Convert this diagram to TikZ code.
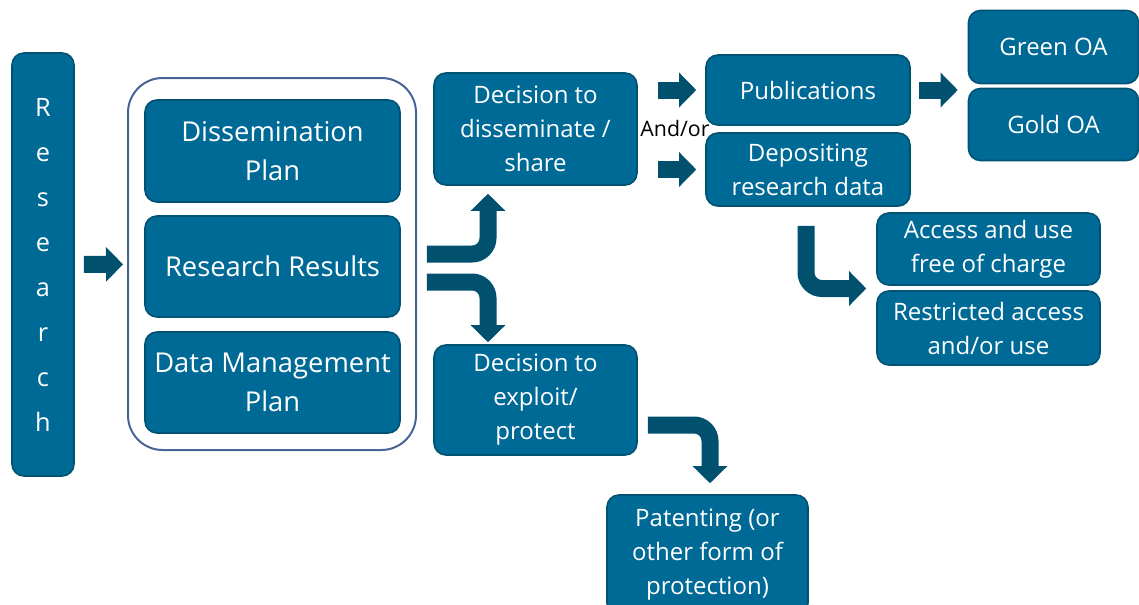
\documentclass[tikz,border=0pt]{standalone}
\usepackage{fontspec}
\setmainfont{Open Sans}
\usetikzlibrary{arrows.meta,calc}
\definecolor{boxblue}{RGB}{0,106,150}
\definecolor{boxedge}{RGB}{0,82,115}
\definecolor{arrowblue}{RGB}{0,80,110}
\definecolor{framec}{RGB}{72,100,150}

\begin{document}
\begin{tikzpicture}[x=0.75pt,y=-0.75pt,
	box/.style={rectangle, rounded corners=9pt, fill=boxblue, draw=boxedge, line width=1.2pt, text=white, align=center, inner sep=0pt},
	bigtext/.style={font=\fontsize{20.5}{29}\selectfont},
	smalltext/.style={font=\fontsize{18}{25.5}\selectfont},
	flow/.style={draw=arrowblue, line width=12.75pt, rounded corners=12pt, -{Triangle[length=12.75pt,width=26pt,line width=0pt]}}
	]
	\useasboundingbox (0,0) rectangle (1139,604);

	% Forschung und Rahmen
	\node[box, minimum width=46.5pt, minimum height=317.25pt, font=\fontsize{19}{33.75}\selectfont] (research) at (43,264.5) {R\\e\\s\\e\\a\\r\\c\\h};
	\node[draw=framec, line width=1.5pt, rounded corners=26pt, minimum width=216pt, minimum height=279pt] (frame) at (272,264) {};
	\node[box, bigtext, minimum width=191.25pt, minimum height=76.5pt] (dissem) at (272.5,151) {Dissemination\\Plan};
	\node[box, bigtext, minimum width=191.25pt, minimum height=75.75pt] (results) at (272.5,266.5) {Research Results};
	\node[box, bigtext, minimum width=191.25pt, minimum height=75.75pt] (dmp) at (272.5,382.5) {Data Management\\Plan};

	% Entscheidungen
	\node[box, smalltext, minimum width=152.25pt, minimum height=84pt] (share) at (535.5,129) {Decision to\\disseminate /\\share};
	\node[box, smalltext, minimum width=152.25pt, minimum height=82.5pt] (exploit) at (535.5,400) {Decision to\\exploit/\\protect};
	\node[font=\fontsize{16}{19}\selectfont] (andor) at (675,128) {And/or};

	% Veroeffentlichung und Daten
	\node[box, smalltext, minimum width=153pt, minimum height=52.5pt] (pubs) at (808,90) {Publications};
	\node[box, smalltext, minimum width=153pt, minimum height=54.75pt] (deposit) at (808,169.5) {Depositing\\research data};
	\node[box, smalltext, minimum width=127.5pt, minimum height=54.75pt] (green) at (1053.5,47) {Green OA};
	\node[box, smalltext, minimum width=127.5pt, minimum height=54pt] (gold) at (1053.5,124.5) {Gold OA};
	\node[box, smalltext, minimum width=167.25pt, minimum height=54pt] (access) at (988.5,249) {Access and use\\free of charge};
	\node[box, smalltext, minimum width=167.25pt, minimum height=55.5pt] (restricted) at (988.5,328) {Restricted access\\and/or use};
	\node[box, smalltext, minimum width=150.75pt, minimum height=90pt] (patent) at (707.5,555) {Patenting (or\\other form of\\protection)};

	\coordinate (oain) at ($(green.west)!.5!(gold.west)$);
	\coordinate (accin) at ($(access.west)!.5!(restricted.west)$);

	% Pfeile
	\draw[flow, shorten <=6.75pt, shorten >=3pt] (research) -- (frame);
	\draw[flow] ([shift={(26,-12.5)}]results.east) -| ([shift={(-47.5,8)}]share.south);
	\draw[flow] ([shift={(26,15.5)}]results.east) -| ([shift={(-47.5,-2)}]exploit.north);
	\draw[flow, shorten <=15pt, shorten >=6.75pt] (share.east |- pubs.west) -- (pubs.west);
	\draw[flow, shorten <=15pt, shorten >=6.75pt] (share.east |- deposit.west) -- (deposit.west);
	\draw[flow, shorten <=6pt, shorten >=7.5pt] (pubs.east) -- (pubs.east -| oain);
	\draw[flow] ([shift={(-2,19)}]deposit.south) |- ([xshift=-7.5pt]accin);
	\draw[flow] ([shift={(10,25)}]exploit.east) -| ([shift={(2.5,-11)}]patent.north);
\end{tikzpicture}
\end{document}
